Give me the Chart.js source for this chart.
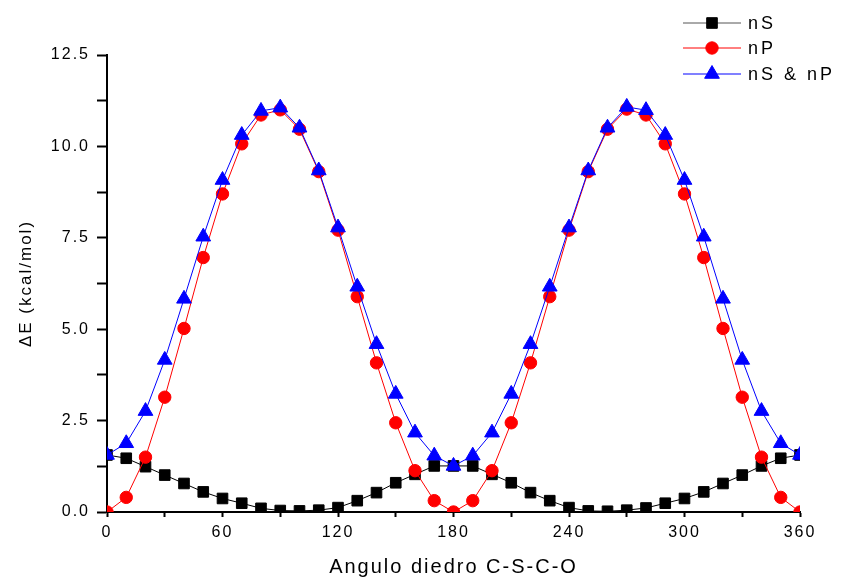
<!DOCTYPE html>
<html>
<head>
<meta charset="utf-8">
<script src="https://cdn.jsdelivr.net/npm/chart.js@4.4.1/dist/chart.umd.min.js"></script>
<style>
  html, body { margin: 0; padding: 0; background: #fff; }
  canvas { display: block; }
</style>
</head>
<body>
<canvas id="demoChart" width="846" height="579"></canvas>
<script>
// dihedral angle C-S-C-O, degrees
var angles = [0, 10, 20, 30, 40, 50, 60, 70, 80, 90, 100, 110, 120, 130, 140, 150, 160, 170, 180,
              190, 200, 210, 220, 230, 240, 250, 260, 270, 280, 290, 300, 310, 320, 330, 340, 350, 360];

// energies in kcal/mol
var nS = [1.56, 1.47, 1.24, 1.01, 0.78, 0.55, 0.37, 0.24, 0.10, 0.04, 0.03, 0.05, 0.12, 0.31, 0.53, 0.80, 1.03, 1.26, 1.26,
          1.26, 1.03, 0.80, 0.53, 0.31, 0.12, 0.03, 0.02, 0.05, 0.11, 0.24, 0.37, 0.55, 0.78, 1.01, 1.26, 1.47, 1.56];
var nP = [0.00, 0.40, 1.50, 3.14, 5.02, 6.96, 8.70, 10.07, 10.86, 11.00, 10.47, 9.31, 7.71, 5.89, 4.08, 2.44, 1.13, 0.31, 0.00,
          0.31, 1.13, 2.44, 4.08, 5.89, 7.71, 9.31, 10.47, 11.02, 10.86, 10.07, 8.70, 6.96, 5.02, 3.14, 1.50, 0.40, 0.00];
var nSnP = [1.56, 1.88, 2.76, 4.16, 5.83, 7.53, 9.08, 10.31, 10.97, 11.06, 10.51, 9.34, 7.78, 6.16, 4.59, 3.23, 2.17, 1.54, 1.26,
            1.54, 2.17, 3.23, 4.59, 6.16, 7.78, 9.34, 10.51, 11.08, 10.99, 10.31, 9.08, 7.53, 5.83, 4.16, 2.76, 1.88, 1.56];

var xTicks = [0, 60, 120, 180, 240, 300, 360];
var yTicks = [0, 2.5, 5, 7.5, 10, 12.5];

var FONT = "'Liberation Sans', Arial, sans-serif";

function pts(ys) {
  return angles.map(function (a, i) { return {x: a, y: ys[i]}; });
}

// letter spacing like the original plot text
var spacing = {
  id: 'spacing',
  beforeUpdate: function (chart) { chart.ctx.letterSpacing = '2px'; },
  beforeDraw: function (chart) { chart.ctx.letterSpacing = '2px'; }
};

// legend with line through the marker, top right
var lineLegend = {
  id: 'lineLegend',
  afterDraw: function (chart) {
    var ctx = chart.ctx;
    var rows = [23, 48, 74];
    ctx.save();
    ctx.letterSpacing = '3px';
    ctx.font = '18px ' + FONT;
    ctx.textBaseline = 'middle';
    ctx.textAlign = 'left';
    chart.data.datasets.forEach(function (ds, i) {
      var y = rows[i];
      ctx.strokeStyle = ds.legendLine || ds.borderColor;
      ctx.lineWidth = ds.legendWidth || 1;
      ctx.beginPath();
      ctx.moveTo(683, y);
      ctx.lineTo(741, y);
      ctx.stroke();
      ctx.fillStyle = ds.pointBackgroundColor;
      ctx.strokeStyle = ds.pointBackgroundColor;
      ctx.lineWidth = 1;
      Chart.helpers.drawPoint(ctx, {pointStyle: ds.pointStyle, radius: ds.pointRadius, rotation: 0, borderWidth: 1}, 712, y);
      ctx.fillStyle = '#000';
      ctx.fillText(ds.label, 748, y + 1);
    });
    ctx.restore();
  }
};

new Chart(document.getElementById('demoChart'), {
  type: 'line',
  data: {
    datasets: [{
      label: 'nS',
      data: pts(nS),
      borderColor: '#000',
      borderWidth: 1,
      pointStyle: 'rect',
      pointRadius: 7.5,
      pointBackgroundColor: '#000',
      pointBorderColor: '#000',
      pointBorderWidth: 1,
      legendLine: '#555',
      order: 2
    }, {
      label: 'nP',
      data: pts(nP),
      borderColor: '#ff0000',
      borderWidth: 1,
      pointStyle: 'circle',
      pointRadius: 6.2,
      pointBackgroundColor: '#ff0000',
      pointBorderColor: '#ff0000',
      pointBorderWidth: 1,
      order: 1
    }, {
      label: 'nS & nP',
      data: pts(nSnP),
      borderColor: '#0000ff',
      borderWidth: 1,
      pointStyle: 'triangle',
      pointRadius: 8.5,
      pointBackgroundColor: '#0000ff',
      pointBorderColor: '#0000ff',
      pointBorderWidth: 1,
      legendLine: '#8080ff',
      legendWidth: 2,
      order: 0
    }]
  },
  options: {
    responsive: false,
    animation: false,
    layout: {padding: {top: 55, right: 46, left: 0, bottom: 0}},
    elements: {line: {tension: 0}},
    plugins: {
      legend: {display: false},
      tooltip: {enabled: false}
    },
    scales: {
      x: {
        type: 'linear',
        min: 0,
        max: 360,
        afterFit: function (scale) { scale.height = 67; },
        afterBuildTicks: function (scale) {
          var t = [];
          xTicks.forEach(function (v, i) {
            t.push({value: v});
            if (i < xTicks.length - 1) t.push({value: (v + xTicks[i + 1]) / 2});
          });
          scale.ticks = t;
        },
        ticks: {
          autoSkip: false,
          maxRotation: 0,
          padding: 6,
          color: '#000',
          font: {family: FONT, size: 16},
          callback: function (v) { return xTicks.indexOf(v) >= 0 ? String(v) : ''; }
        },
        grid: {drawOnChartArea: false, drawTicks: true, tickLength: 5, tickColor: '#000', tickWidth: 2},
        border: {display: true, color: '#000', width: 2},
        title: {
          display: true,
          text: 'Angulo diedro C-S-C-O',
          color: '#000',
          font: {family: FONT, size: 20},
          padding: {top: 0, bottom: 0}
        }
      },
      y: {
        type: 'linear',
        min: 0,
        max: 12.5,
        afterFit: function (scale) { scale.width = 107; },
        afterBuildTicks: function (scale) {
          var t = [];
          yTicks.forEach(function (v, i) {
            t.push({value: v});
            if (i < yTicks.length - 1) t.push({value: (v + yTicks[i + 1]) / 2});
          });
          scale.ticks = t;
        },
        ticks: {
          autoSkip: false,
          padding: 7,
          color: '#000',
          font: {family: FONT, size: 16},
          callback: function (v) { return yTicks.indexOf(v) >= 0 ? v.toFixed(1) : ''; }
        },
        grid: {drawOnChartArea: false, drawTicks: true, tickLength: 10, tickColor: '#000', tickWidth: 2},
        border: {display: true, color: '#000', width: 2},
        title: {
          display: true,
          text: 'ΔE (kcal/mol)',
          color: '#000',
          font: {family: FONT, size: 17},
          padding: {top: 16, bottom: 0}
        }
      }
    }
  },
  plugins: [spacing, lineLegend]
});
</script>
</body>
</html>
